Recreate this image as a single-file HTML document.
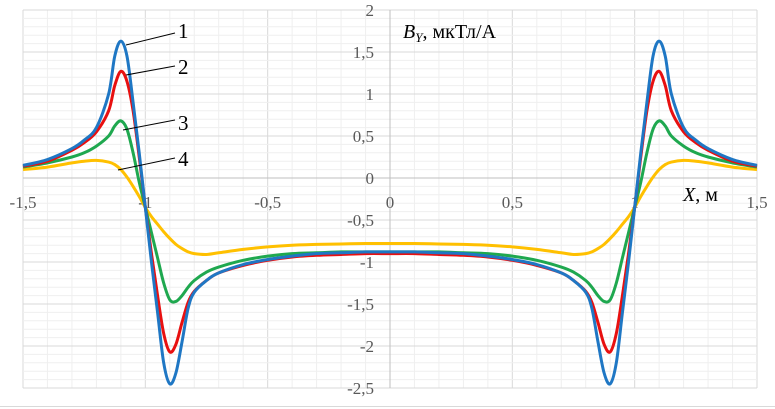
<!DOCTYPE html>
<html><head><meta charset="utf-8"><style>
html,body{margin:0;padding:0;background:#fff;}
svg{display:block;font-family:"Liberation Serif",serif;}
</style></head><body>
<svg id="c" width="775" height="409">
<line x1="0" y1="406.5" x2="775" y2="406.5" stroke="#d9d9d9"/>
<g id="grid"></g>
<g id="axes"></g>
<g id="series"></g>
<text x="403" y="38" font-size="20" fill="#000"><tspan font-style="italic">B</tspan><tspan font-size="13" dy="4" font-style="italic">Y</tspan><tspan dy="-4">, мкТл/А</tspan></text>
<text x="683" y="201" font-size="20" fill="#000"><tspan font-style="italic">X</tspan>, м</text>
<g stroke="#000" stroke-width="1">
<line x1="126" y1="45" x2="175" y2="33"/>
<line x1="126" y1="75" x2="175" y2="66"/>
<line x1="123" y1="130" x2="175" y2="120"/>
<line x1="118" y1="170" x2="175" y2="158"/>
</g>
<g font-size="21" fill="#000">
<text x="178" y="38">1</text>
<text x="178" y="74">2</text>
<text x="178" y="130">3</text>
<text x="178" y="166">4</text>
</g>
</svg>
<script>
const xs = [0,0.1,0.2,0.3,0.4,0.5,0.6,0.7,0.75,0.8,0.825,0.85,0.875,0.9,0.925,0.95,0.975,1.0,1.025,1.05,1.075,1.1,1.125,1.15,1.2,1.25,1.3,1.4,1.5];
const s1 = [-0.88,-0.88,-0.89,-0.9,-0.93,-0.97,-1.03,-1.13,-1.22,-1.36,-1.55,-1.95,-2.32,-2.45,-2.2,-1.6,-1.0,-0.35,0.3,0.9,1.45,1.63,1.45,1.0,0.6,0.45,0.35,0.22,0.15];
const s2 = [-0.9,-0.9,-0.91,-0.92,-0.94,-0.98,-1.04,-1.13,-1.22,-1.35,-1.48,-1.72,-1.98,-2.07,-1.85,-1.4,-0.9,-0.35,0.25,0.8,1.15,1.27,1.1,0.8,0.55,0.42,0.33,0.2,0.14];
const s3 = [-0.88,-0.88,-0.88,-0.89,-0.9,-0.93,-0.98,-1.06,-1.12,-1.22,-1.3,-1.4,-1.47,-1.45,-1.25,-0.95,-0.65,-0.35,-0.05,0.3,0.58,0.68,0.62,0.5,0.38,0.3,0.25,0.18,0.13];
const s4 = [-0.78,-0.78,-0.785,-0.79,-0.8,-0.82,-0.85,-0.89,-0.91,-0.9,-0.88,-0.84,-0.79,-0.72,-0.64,-0.55,-0.46,-0.35,-0.22,-0.1,0.01,0.1,0.16,0.19,0.21,0.2,0.18,0.13,0.1];
const xTicks = [-1.5,-1,-0.5,0,0.5,1,1.5];
const xTickLabels = ["-1,5","-1","-0,5","0","0,5","1","1,5"];
const yTicks = [2,1.5,1,0.5,0,-0.5,-1,-1.5,-2,-2.5];
const yTickLabels = ["2","1,5","1","0,5","0","-0,5","-1","-1,5","-2","-2,5"];
const NS="http://www.w3.org/2000/svg";
const X0=23,X1=757,Y0=10,Y1=388;
function sx(v){return X0+(v+1.5)/3*(X1-X0);}
function sy(v){return Y0+(2-v)/4.5*(Y1-Y0);}
function mk(t,a,p){const e=document.createElementNS(NS,t);for(const k in a)e.setAttribute(k,a[k]);p.appendChild(e);return e;}
const grid=document.getElementById('grid'),axes=document.getElementById('axes'),ser=document.getElementById('series');
for(let i=0;i<=30;i++){const v=-1.5+i*0.1;const major=i%5===0;
 const l=mk('line',{x1:sx(v),x2:sx(v),y1:Y0,y2:Y1,stroke:major?'#d9d9d9':'#efefef','stroke-width':1},grid);
 
 }
for(let i=0;i<=45;i++){const v=2-i*0.1;const major=i%5===0;
 const l=mk('line',{x1:X0,x2:X1,y1:sy(v),y2:sy(v),stroke:major?'#d9d9d9':'#efefef','stroke-width':1},grid);
 
 }
const xa=mk('line',{x1:X0,x2:X1,y1:sy(0),y2:sy(0),stroke:'#bfbfbf'},axes);


const ya=mk('line',{x1:sx(0),x2:sx(0),y1:Y0,y2:Y1,stroke:'#bfbfbf'},axes);


xTicks.forEach((v,i)=>{const t=mk('text',{x:sx(v),y:sy(0)+30,'font-size':17,fill:'#595959','text-anchor':'middle'},axes);t.textContent=xTickLabels[i];
 
 });
yTicks.forEach((v,i)=>{const t=mk('text',{x:sx(0)-16,y:sy(v)+6,'font-size':17,fill:'#595959','text-anchor':'end'},axes);t.textContent=yTickLabels[i];
 
 });
function path(vals){
 const pts=[];
 for(let i=xs.length-1;i>0;i--)pts.push([sx(-xs[i]),sy(vals[i])]);
 for(let i=0;i<xs.length;i++)pts.push([sx(xs[i]),sy(vals[i])]);
 let d='M'+pts[0][0]+','+pts[0][1];
 for(let i=0;i<pts.length-1;i++){const p0=pts[i-1]||pts[i],p1=pts[i],p2=pts[i+1],p3=pts[i+2]||p2;
  d+=' C'+(p1[0]+(p2[0]-p0[0])/6)+','+(p1[1]+(p2[1]-p0[1])/6)+' '+(p2[0]-(p3[0]-p1[0])/6)+','+(p2[1]-(p3[1]-p1[1])/6)+' '+p2[0]+','+p2[1];}
 return d;}
[[s4,'#ffc000','series-4'],[s3,'#1fa84f','series-3'],[s2,'#e81010','series-2'],[s1,'#1f77c4','series-1']].forEach(s=>{
 const p=mk('path',{d:path(s[0]),fill:'none',stroke:s[1],'stroke-width':3,'stroke-linejoin':'round'},ser);
 
 });
</script>
</body></html>
